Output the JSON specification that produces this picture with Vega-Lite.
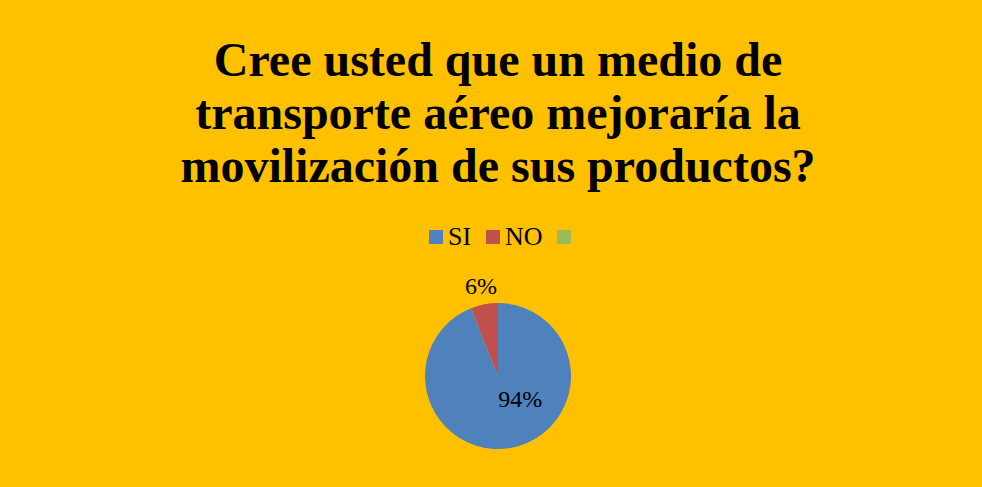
{
  "$schema": "https://vega.github.io/schema/vega-lite/v6.json",
  "autosize": {"type": "none"},
  "width": 146,
  "height": 146,
  "padding": {"left": 425, "top": 303, "right": 411, "bottom": 38},
  "background": "#FFC000",
  "title": {
    "text": ["Cree usted que un medio de", "transporte aéreo mejoraría la", "movilización de sus productos?"],
    "font": "Liberation Serif",
    "fontSize": 48,
    "fontWeight": "bold",
    "color": "#000000",
    "lineHeight": 53,
    "anchor": "middle",
    "frame": "group",
    "offset": 32
  },
  "config": {
    "view": {"stroke": null},
    "font": "Liberation Serif"
  },
  "data": {
    "values": [
      {"respuesta": "SI", "valor": 0.94, "orden": 1},
      {"respuesta": "NO", "valor": 0.06, "orden": 2},
      {"respuesta": "", "valor": 0, "orden": 3}
    ]
  },
  "encoding": {
    "theta": {"field": "valor", "type": "quantitative", "stack": true},
    "order": {"field": "orden", "type": "quantitative"}
  },
  "layer": [
    {
      "mark": {"type": "arc", "outerRadius": 73},
      "encoding": {
        "color": {
          "field": "respuesta",
          "type": "nominal",
          "scale": {"domain": ["SI", "NO", ""], "range": ["#4F81BD", "#C0504D", "#9BBB59"]},
          "legend": {
            "title": null,
            "orient": "none",
            "direction": "horizontal",
            "legendX": -2,
            "legendY": -79,
            "symbolType": "square",
            "symbolSize": 196,
            "symbolStrokeWidth": 0,
            "symbolOpacity": 1,
            "labelFont": "Liberation Serif",
            "labelFontSize": 26,
            "labelColor": "#000000",
            "labelOffset": -1,
            "columnPadding": 8
          }
        }
      }
    },
    {
      "mark": {"type": "text", "radius": 91, "font": "Liberation Serif", "fontSize": 24, "color": "#000000", "baseline": "middle", "align": "center"},
      "encoding": {
        "text": {"condition": {"test": "datum.respuesta == 'NO'", "field": "valor", "format": ".0%"}, "value": ""}
      }
    },
    {
      "mark": {"type": "text", "radius": 33, "dx": 16, "dy": -8, "font": "Liberation Serif", "fontSize": 24, "color": "#000000", "baseline": "middle", "align": "center"},
      "encoding": {
        "text": {"condition": {"test": "datum.respuesta == 'SI'", "field": "valor", "format": ".0%"}, "value": ""}
      }
    }
  ]
}
